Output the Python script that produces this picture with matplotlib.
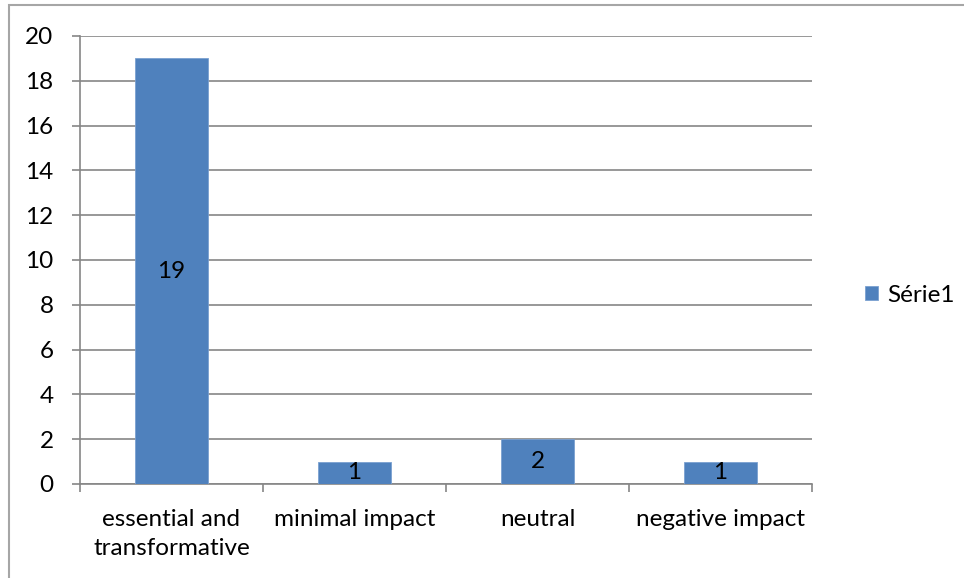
import matplotlib.pyplot as plt
from matplotlib.patches import Rectangle
import numpy as np

categories = ["essential and\ntransformative", "minimal impact", "neutral", "negative impact"]
values = [19, 1, 2, 1]
series_name = "Série1"
y_ticks = [0, 2, 4, 6, 8, 10, 12, 14, 16, 18, 20]

W, H = 964, 578
FS = 17.5
fig = plt.figure(figsize=(W / 100, H / 100), dpi=100)
plt.rcParams['font.family'] = ['Lato', 'DejaVu Sans']

# chart frame (only left/top edges fall inside the canvas)
fig.patches.append(Rectangle((9 / W, -0.1), 2.0, 1 - 5 / H + 0.1, transform=fig.transFigure,
                             fill=False, edgecolor='#a6a6a6', linewidth=1.5, zorder=0))

ax = fig.add_axes([80 / W, 1 - 484 / H, (812 - 80) / W, (484 - 36) / H])
x = np.arange(len(categories))
bar_color = '#4f81bd'
bars = ax.bar(x, values, width=0.4, color=bar_color, edgecolor='#7aa0d0', linewidth=0.6,
              zorder=3, label=series_name)

for b, v in zip(bars, values):
    ax.text(b.get_x() + b.get_width() / 2, v / 2, str(v), ha='center', va='center',
            fontsize=FS, color='black', zorder=4)

ax.set_xlim(-0.5, len(categories) - 0.5)
ax.set_ylim(0, 20)
ax.set_yticks(y_ticks)
ax.set_yticklabels([str(t) for t in y_ticks], fontsize=FS)
ax.yaxis.grid(True, color='#868686', linewidth=1.2, zorder=0)
ax.set_axisbelow(True)

# category labels between boundary ticks
ax.set_xticks(x)
ax.set_xticklabels(categories, fontsize=FS, linespacing=1.45)
ax.tick_params(axis='x', length=0, pad=18)
ax.set_xticks(np.arange(len(categories) + 1) - 0.5, minor=True)
ax.tick_params(axis='x', which='minor', length=6, color='#868686', width=1.2)
ax.tick_params(axis='y', length=6, color='#868686', width=1.2, pad=13)
for lbl in ax.get_xticklabels():
    lbl.set_va('top')

for s in ['top', 'right']:
    ax.spines[s].set_visible(False)
for s in ['left', 'bottom']:
    ax.spines[s].set_color('#868686')
    ax.spines[s].set_linewidth(1.2)

leg = fig.legend(handles=[bars], labels=[series_name], loc='center left',
                 bbox_to_anchor=(843 / W, 1 - 295 / H), frameon=False, fontsize=FS,
                 handlelength=0.55, handleheight=0.55, handletextpad=0.35)

fig.savefig('out.png', dpi=100, facecolor='white')
